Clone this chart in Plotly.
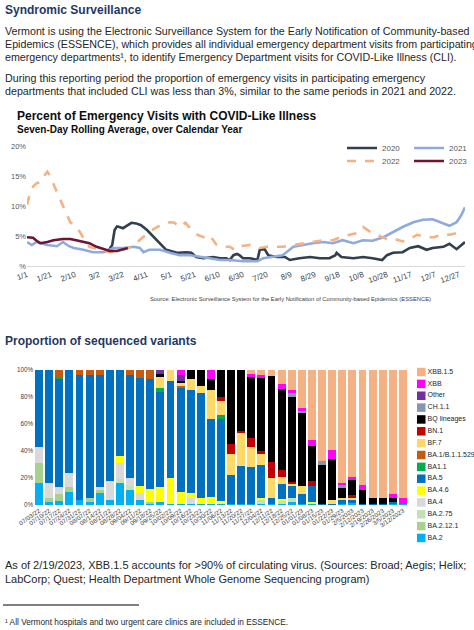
import plotly.graph_objects as go

W, H = 474, 630
def py(p):
    return 1 - p / H
def pxx(p):
    return p / W

SANS = "Liberation Sans, Arial, sans-serif"

# ---------------- line chart data (day of year, percent) ----------------
tick_days = [0, 20, 40, 60, 80, 100, 120, 140, 160, 180, 200, 220, 240, 260, 280, 300, 320, 340, 360]
tick_labels = ["1/1", "1/21", "2/10", "3/2", "3/22", "4/11", "5/1", "5/21", "6/10", "6/30",
               "7/20", "8/9", "8/29", "9/18", "10/8", "10/28", "11/17", "12/7", "12/27"]

day_2020 = [68, 71, 73, 75, 77, 80, 84, 87, 91, 95, 100, 104, 108, 111, 116, 125, 133, 137, 141, 147,
            155, 161, 166, 169, 172, 175, 177, 180, 186, 192, 194, 198, 201, 208, 215, 219, 227, 236,
            244, 252, 257, 258, 262, 272, 280, 288, 296, 300, 305, 313, 319, 326, 333, 338, 347, 352,
            358, 365]
pct_2020 = [2.6, 3.5, 6.0, 6.6, 6.5, 6.3, 6.8, 7.2, 7.1, 6.8, 6.0, 5.2, 4.3, 3.8, 2.7, 2.2, 2.3, 2.2,
            1.5, 1.3, 1.5, 1.3, 1.3, 1.0, 1.8, 2.0, 1.8, 1.3, 1.3, 1.0, 2.7, 2.8, 1.8, 1.5, 1.5, 1.0,
            1.3, 1.5, 1.3, 1.3, 1.8, 2.2, 1.5, 1.3, 1.5, 1.3, 1.0, 1.8, 2.2, 2.3, 3.0, 3.3, 2.7, 3.0,
            3.2, 3.7, 2.8, 4.0]

day_2021 = [0, 4, 8, 13, 17, 25, 30, 35, 39, 47, 55, 64, 72, 80, 89, 94, 97, 102, 111, 119, 127, 136,
            144, 152, 161, 169, 180, 192, 197, 205, 213, 222, 230, 238, 247, 255, 263, 272, 280, 288,
            297, 305, 313, 322, 330, 338, 344, 352, 358, 362, 365]
pct_2021 = [4.0, 3.5, 4.0, 3.7, 3.5, 3.3, 4.0, 3.3, 3.0, 2.7, 2.3, 2.3, 3.0, 3.0, 3.2, 3.0, 2.3, 2.7,
            2.7, 2.2, 1.8, 1.8, 1.5, 1.3, 1.0, 1.0, 0.8, 0.8, 1.3, 1.5, 1.8, 3.2, 3.5, 3.8, 4.0, 3.8,
            4.3, 3.8, 4.3, 4.2, 4.8, 5.7, 6.5, 7.3, 7.7, 7.8, 7.3, 6.7, 7.3, 8.5, 9.8]

day_2022 = [0, 3, 5, 8, 12, 15, 17, 20, 23, 27, 32, 36, 40, 44, 48, 52, 57, 61, 65, 69, 75, 80, 87, 94,
            102, 111, 119, 123, 127, 132, 136, 142, 147, 152, 158, 163, 169, 173, 177, 186, 194, 200,
            205, 213, 222, 230, 238, 247, 255, 261, 269, 275, 280, 286, 292, 297, 303, 308, 313, 321,
            325, 333, 339, 347, 352, 358, 363]
pct_2022 = [10.2, 12.5, 13.2, 13.8, 14.0, 15.2, 15.7, 14.8, 13.2, 11.3, 9.0, 7.3, 6.8, 5.7, 4.3, 3.2,
            2.9, 2.7, 2.5, 2.3, 2.5, 2.7, 3.2, 4.3, 5.7, 6.8, 7.3, 7.2, 6.5, 7.2, 6.3, 5.2, 4.8, 5.2,
            3.5, 3.2, 3.2, 2.7, 3.3, 3.5, 3.0, 3.2, 3.2, 3.2, 3.5, 3.8, 4.0, 4.3, 4.3, 4.8, 5.2, 5.5,
            6.5, 5.7, 5.2, 4.7, 4.3, 4.4, 4.1, 4.7, 5.2, 4.8, 4.8, 5.3, 5.2, 5.5, 5.0]

day_2023 = [0, 3, 5, 8, 11, 17, 22, 30, 36, 41, 47, 52, 58, 64, 69, 75, 80, 84]
pct_2023 = [4.8, 4.7, 4.7, 4.2, 3.8, 4.0, 4.3, 4.5, 4.5, 4.3, 4.0, 3.8, 3.2, 2.8, 2.5, 2.5, 2.8, 3.0]

# ---------------- variant bar data ----------------
weeks = ["07/03/22", "07/10/22", "07/17/22", "07/24/22", "07/31/22", "08/07/22", "08/14/22",
         "08/21/22", "08/28/22", "09/04/22", "09/11/22", "09/18/22", "09/25/22", "10/02/22",
         "10/09/22", "10/16/22", "10/23/22", "10/30/22", "11/06/22", "11/13/22", "11/20/22",
         "11/27/22", "12/04/22", "12/11/22", "12/18/22", "12/25/22", "01/01/23", "01/08/23",
         "01/15/23", "01/22/23", "01/29/23", "2/5/2023", "2/12/2023", "2/19/2023", "2/26/2023",
         "3/5/2023", "3/12/2023"]

ba2 =      [16, 2, 3, 10, 4, 2.5, 9, 4, 16, 11, 4, 1, 2, 1, 1, 1, 1, 1, 1, 1, 1, 1, 1, 1, 1, 2.5, 1, 1,
            0, 0, 0.5, 1.5, 0, 0, 0, 0.5, 0.5]
ba2121 =   [15, 3, 5, 3, 0, 3, 2, 0, 0, 0, 0, 1, 0, 0, 0, 0, 0, 0, 0, 0, 0, 0, 0, 0, 0, 0, 0, 0,
            0, 0, 0, 0, 0, 0, 0, 0, 0]
ba275 =    [0, 0, 0, 0, 0, 0, 0, 0, 3, 3, 0, 0, 0, 0, 0, 0, 0, 0, 0, 0, 0, 0, 3, 0, 2.5, 2.5, 0, 0,
            0, 0, 0, 0, 0, 0, 0, 0, 0]
ba4 =      [12, 11, 5.5, 11, 0, 0, 2, 14, 12, 6, 5, 0, 0, 0, 0, 4, 0, 0, 0, 0, 0, 0, 0, 0, 0, 0, 0, 0,
            0, 0, 0, 0, 0, 0, 0, 0, 0]
ba46 =     [0, 0, 0, 0, 0, 0, 0, 0, 5, 0, 5, 10, 11, 19, 9, 4, 4, 5, 2, 0, 0, 0, 1, 0, 1, 0, 0, 1.5,
            0, 0, 0, 0, 0, 0, 0, 0, 0]
ba5 =      [57, 84, 80, 76, 92, 90.5, 83, 82, 64, 76, 80, 81, 71, 72, 76.5, 76, 78, 58, 61, 21, 28, 27,
            24.5, 4, 11, 9, 7.5, 11.5, 1, 1, 3, 2, 1, 1, 1, 1.5, 0]
ba11 =     [0, 0, 1.5, 0, 0, 0, 0, 0, 0, 0, 0, 0, 3, 0, 0, 0, 0, 0, 3, 0, 0, 0, 0, 0, 0, 0, 0, 0,
            0, 0, 0, 0, 0, 0, 0, 0, 0]
ba1b =     [0, 0, 5, 0, 4, 4, 4, 0, 0, 4, 6, 7, 0, 0, 1.5, 0, 0, 0, 0, 0, 0, 0, 0, 0, 0, 0, 0, 0,
            0, 0, 0, 0, 0, 0, 0, 0, 0]
bf7 =      [0, 0, 0, 0, 0, 0, 0, 0, 0, 0, 0, 0, 8, 8, 2.5, 8, 5, 21, 10, 15.5, 24, 15, 8.5, 15, 5, 2,
            5.5, 0, 0, 3, 1.5, 2, 0, 0, 0, 0, 0]
bn1 =      [0, 0, 0, 0, 0, 0, 0, 0, 0, 0, 0, 0, 0, 0, 0, 0, 0, 0, 3, 7.5, 2, 7, 2, 12, 5.5, 1, 0, 4,
            0, 0, 0, 2, 0, 0, 0, 0, 0]
bq =       [0, 0, 0, 0, 0, 0, 0, 0, 0, 0, 0, 0, 2, 0, 1.5, 7, 12, 8, 20, 55, 45, 45, 54, 63.5, 60, 63,
            54, 26, 28.5, 30, 7.5, 11, 10, 4, 4, 3, 0]
ch11 =     [0, 0, 0, 0, 0, 0, 0, 0, 0, 0, 0, 0, 0, 0, 0, 0, 0, 0, 0, 0, 0, 0, 0, 0, 0, 3, 2, 0,
            3, 0, 2.5, 0, 0, 0, 0, 0, 0]
other =    [0, 0, 0, 0, 0, 0, 0, 0, 0, 0, 0, 0, 3, 0, 4, 0, 0, 0, 0, 0, 0, 0, 0, 0, 0, 0, 0, 0,
            0, 0, 0, 0, 0, 0, 0, 0, 0]
xbb =      [0, 0, 0, 0, 0, 0, 0, 0, 0, 0, 0, 0, 0, 0, 4, 0, 0, 7, 0, 0, 0, 2, 2.5, 0, 4, 2, 2, 4,
            0, 7, 1, 2, 3.5, 0, 0, 3.5, 5]
xbb15 =    [0, 0, 0, 0, 0, 0, 0, 0, 0, 0, 0, 0, 0, 0, 0, 0, 0, 0, 0, 0, 0, 3, 3.5, 4.5, 10, 15, 28, 52,
            67.5, 59, 84, 79.5, 85.5, 95, 95, 91.5, 94.5]

variant_names = ["BA.2", "BA.2.12.1", "BA.2.75", "BA.4", "BA.4.6", "BA.5", "BA1.1", "BA.1/B.1.1.529",
                 "BF.7", "BN.1", "BQ lineages", "CH.1.1", "Other", "XBB", "XBB.1.5"]
variant_values = [ba2, ba2121, ba275, ba4, ba46, ba5, ba11, ba1b, bf7, bn1, bq, ch11, other, xbb, xbb15]
variant_colors = ["#00B0F0", "#A9D18E", "#C5E0B4", "#D9D9D9", "#FFFF00", "#0070C0", "#00B050",
                  "#C55A11", "#FFD966", "#C00000", "#000000", "#8497B0", "#7030A0", "#FF00FF",
                  "#F4B183"]

fig = go.Figure()

# line chart traces, one legend each (laid out as a 2x2 grid)
fig.add_trace(go.Scatter(x=day_2020, y=pct_2020, mode="lines", name="2020",
                         line=dict(color="#323F4F", width=2.6), legend="legend", xaxis="x", yaxis="y"))
fig.add_trace(go.Scatter(x=day_2021, y=pct_2021, mode="lines", name="2021",
                         line=dict(color="#8FAADC", width=2.6), legend="legend2", xaxis="x", yaxis="y"))
fig.add_trace(go.Scatter(x=day_2022, y=pct_2022, mode="lines", name="2022",
                         line=dict(color="#F4B183", width=2.6, dash="dash"), legend="legend3",
                         xaxis="x", yaxis="y"))
fig.add_trace(go.Scatter(x=day_2023, y=pct_2023, mode="lines", name="2023",
                         line=dict(color="#6E1434", width=2.6), legend="legend4", xaxis="x", yaxis="y"))

# stacked bars
for name, vals, col in zip(variant_names, variant_values, variant_colors):
    fig.add_trace(go.Bar(x=weeks, y=vals, name=name, marker=dict(color=col, line=dict(width=0)),
                         showlegend=False, xaxis="x2", yaxis="y2"))

# legend for the bars: square swatches on a categorical axis
leg_names = variant_names[::-1]
leg_colors = variant_colors[::-1]
fig.add_trace(go.Scatter(x=[0] * len(leg_names), y=leg_names, mode="markers+text",
                         marker=dict(symbol="square", size=8.5, color=leg_colors),
                         text=leg_names, textposition="middle right",
                         textfont=dict(family=SANS, size=7, color="#262626"),
                         cliponaxis=False, showlegend=False, hoverinfo="skip",
                         xaxis="x3", yaxis="y3"))

def leg(x, ytop):
    return dict(orientation="h", x=pxx(x), xanchor="left", y=py(ytop), yanchor="top",
                itemwidth=30, traceorder="normal", borderwidth=0,
                font=dict(family=SANS, size=8, color="#595959"), bgcolor="rgba(0,0,0,0)")

fig.update_layout(
    width=W, height=H, margin=dict(l=0, r=0, t=0, b=0, autoexpand=False),
    paper_bgcolor="white", plot_bgcolor="white",
    barmode="stack", bargap=0.22,
    xaxis=dict(domain=[pxx(27), pxx(465)], range=[0, 365], tickvals=tick_days, ticktext=tick_labels,
               tickangle=-20, tickfont=dict(family=SANS, size=8, color="#404040"),
               showgrid=False, zeroline=False, showline=True, linecolor="#D9D9D9", linewidth=1,
               ticks="", anchor="y", automargin=False),
    yaxis=dict(domain=[py(266), py(146)], range=[0, 20], tickvals=[0, 5, 10, 15, 20],
               ticktext=["%", "5%", "10%", "15%", "20%"],
               tickfont=dict(family=SANS, size=7.5, color="#595959"),
               showgrid=False, zeroline=False, showline=False, ticks="", anchor="x", automargin=False),
    xaxis2=dict(domain=[pxx(34), pxx(408)], type="category", tickangle=-35,
                tickmode="array", tickvals=weeks, ticktext=weeks,
                tickfont=dict(family=SANS, size=6.3, color="#404040"), showgrid=False,
                showline=False, ticks="", anchor="y2", automargin=False),
    yaxis2=dict(domain=[py(505), py(370)], range=[0, 100], tickvals=[0, 20, 40, 60, 80, 100],
                ticktext=["0%", "20%", "40%", "60%", "80%", "100%"],
                tickfont=dict(family=SANS, size=6.3, color="#404040"),
                showgrid=False, zeroline=False, showline=False, ticks="", anchor="x2", automargin=False),
    xaxis3=dict(domain=[pxx(416), 1], range=[-0.1, 1], visible=False, anchor="y3", automargin=False),
    yaxis3=dict(domain=[py(543.9), py(366.1)], type="category", range=[14.5, -0.5],
                visible=False, anchor="x3", automargin=False),
    legend=leg(342, 133.5),
    legend2=leg(409, 133.5),
    legend3=leg(342, 146.5),
    legend4=leg(409, 146.5),
    showlegend=True,
)

def txt(s, x, y, size, color="#262626", bold=False, xanchor="left"):
    if bold:
        s = "<b>" + s + "</b>"
    fig.add_annotation(text=s, x=pxx(x), y=py(y), xref="paper", yref="paper",
                       xanchor=xanchor, yanchor="middle", showarrow=False,
                       font=dict(family=SANS, size=size, color=color))

NAVY = "#1F3864"
txt("Syndromic Surveillance", 3, 10, 12, NAVY, True)
body = 10.7
txt("Vermont is using the Electronic Surveillance System for the Early Notification of Community-based",
    3, 31, body)
txt("Epidemics (ESSENCE), which provides all individual emergency department visits from participating",
    3, 44, body)
txt("emergency departments¹, to identify Emergency Department visits for COVID-Like Illness (CLI).",
    3, 57, body)
txt("During this reporting period the proportion of emergency visits in participating emergency",
    3, 78, body)
txt("departments that included CLI was less than 3%, similar to the same periods in 2021 and 2022.",
    3, 91, body)
txt("Percent of Emergency Visits with COVID-Like Illness", 15, 116, 12, "#0D0D0D", True)
txt("Seven-Day Rolling Average, over Calendar Year", 15, 130, 10, "#0D0D0D", True)
txt("Source: Electronic Surveillance System for the Early Notification of Community-based Epidemics (ESSENCE)",
    433, 299, 5.8, "#404040", False, "right")
txt("Proportion of sequenced variants", 3, 341, 12, NAVY, True)
txt("As of 2/19/2023, XBB.1.5 accounts for >90% of circulating virus. (Sources: Broad; Aegis; Helix;",
    3, 565, 11)
txt("LabCorp; Quest; Health Department Whole Genome Sequencing program)", 3, 579, 11)
txt("¹ All Vermont hospitals and two urgent care clinics are included in ESSENCE.", 3, 622, 8.3)

fig.add_shape(type="line", xref="paper", yref="paper", x0=pxx(3), x1=pxx(139), y0=py(605), y1=py(605),
              line=dict(color="#000000", width=1))

fig.write_html("out.html", config={"displayModeBar": False},
               post_script="document.body.style.margin='0';document.body.style.overflow='hidden';")
